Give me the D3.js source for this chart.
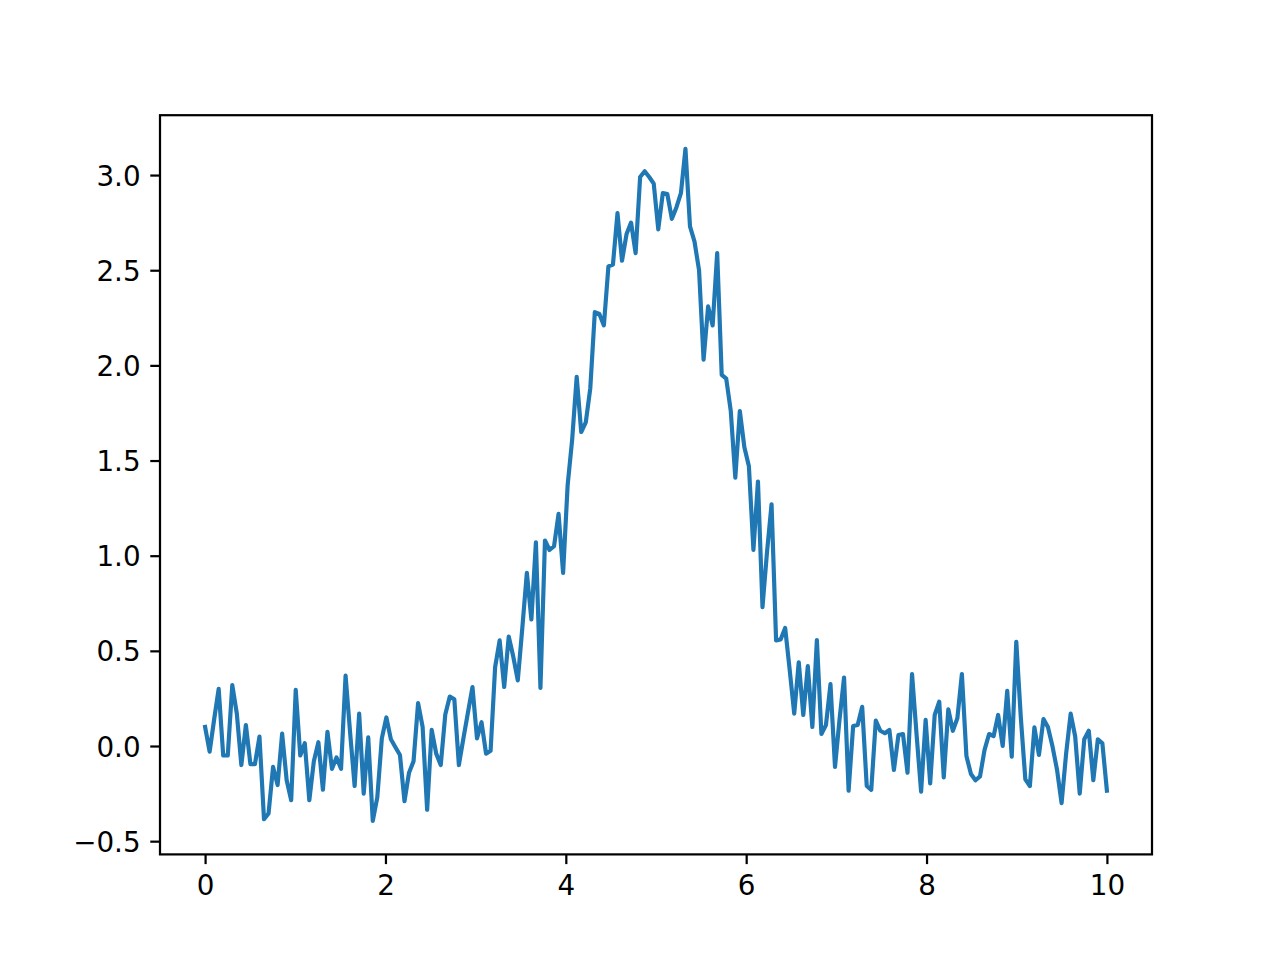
<!DOCTYPE html>
<html>
<head>
<meta charset="utf-8">
<script src="https://cdn.jsdelivr.net/npm/d3@7"></script>
<style>
  html, body { margin: 0; padding: 0; background: #ffffff; }
  svg { display: block; }
</style>
</head>
<body>
<div id="chart"></div>
<script>
// ---- data ----
const xMin = 0;
const xMax = 10;
const yValues = [
  0.10, -0.03, 0.14, 0.30, -0.05, -0.05, 0.32, 0.17, -0.10, 0.11,
  -0.095, -0.095, 0.05, -0.385, -0.355, -0.11, -0.205, 0.065, -0.18, -0.285,
  0.295, -0.05, 0.015, -0.285, -0.08, 0.02, -0.23, 0.075, -0.12, -0.06,
  -0.12, 0.37, 0.07, -0.21, 0.17, -0.25, 0.045, -0.393, -0.27, 0.04,
  0.15, 0.035, -0.007, -0.047, -0.29, -0.14, -0.08, 0.225, 0.10, -0.335,
  0.085, -0.04, -0.10, 0.165, 0.26, 0.245, -0.10, 0.04, 0.175, 0.31,
  0.04, 0.125, -0.04, -0.025, 0.415, 0.555, 0.31, 0.575, 0.47, 0.345,
  0.62, 0.91, 0.665, 1.07, 0.305, 1.08, 1.03, 1.05, 1.22, 0.91,
  1.37, 1.61, 1.94, 1.65, 1.70, 1.88, 2.28, 2.27, 2.21, 2.52,
  2.53, 2.80, 2.55, 2.69, 2.75, 2.59, 2.99, 3.02, 2.99, 2.955,
  2.715, 2.905, 2.90, 2.77, 2.83, 2.905, 3.138, 2.73, 2.65, 2.50,
  2.03, 2.31, 2.21, 2.59, 1.95, 1.93, 1.76, 1.41, 1.76, 1.57,
  1.47, 1.03, 1.39, 0.73, 1.02, 1.27, 0.555, 0.56, 0.62, 0.40,
  0.17, 0.44, 0.163, 0.42, 0.10, 0.557, 0.063, 0.11, 0.325, -0.11,
  0.14, 0.36, -0.235, 0.105, 0.11, 0.206, -0.21, -0.23, 0.133, 0.08,
  0.067, 0.084, -0.126, 0.058, 0.063, -0.14, 0.378, 0.06, -0.24, 0.137,
  -0.196, 0.163, 0.233, -0.165, 0.193, 0.08, 0.146, 0.378, -0.053, -0.147,
  -0.18, -0.16, -0.02, 0.063, 0.052, 0.163, 0.0, 0.29, -0.056, 0.548,
  0.15, -0.175, -0.21, 0.098, -0.047, 0.142, 0.098, -0.003, -0.126, -0.30,
  -0.04, 0.17, 0.05, -0.25, 0.035, 0.08, -0.18, 0.035, 0.014, -0.235
];
const xTicks = [0, 2, 4, 6, 8, 10];
const yTicks = [-0.5, 0.0, 0.5, 1.0, 1.5, 2.0, 2.5, 3.0];

// evenly spaced sample positions (x grid of the series)
const nPts = yValues.length;
const xValues = yValues.map((_, i) => xMin + i * (xMax - xMin) / (nPts - 1));
const points = xValues.map((xv, i) => ({ x: xv, y: yValues[i] }));

// ---- layout (matplotlib default figure 6.4x4.8 in @200dpi) ----
const figW = 1280, figH = 960;
const axL = 160, axR = 1152, axT = 115.2, axB = 854.4;
const fontPx = 27.78;
const tickLen = 9.72;
const tickPad = 9.72;

function padDomain(lo, hi) {
  const m = (hi - lo) * 0.05;
  return [lo - m, hi + m];
}

const xScale = d3.scaleLinear().domain(padDomain(xMin, xMax)).range([axL, axR]);
const yExt = d3.extent(yValues);
const yScale = d3.scaleLinear().domain(padDomain(yExt[0], yExt[1])).range([axB, axT]);

const svg = d3.select("#chart").append("svg")
  .attr("width", figW).attr("height", figH)
  .attr("viewBox", `0 0 ${figW} ${figH}`);

svg.append("rect").attr("width", figW).attr("height", figH).attr("fill", "#ffffff");

svg.append("clipPath").attr("id", "clip")
  .append("rect").attr("x", axL).attr("y", axT)
  .attr("width", axR - axL).attr("height", axB - axT);

// data line
const lineGen = d3.line().x(d => xScale(d.x)).y(d => yScale(d.y));
svg.append("path")
  .datum(points)
  .attr("clip-path", "url(#clip)")
  .attr("fill", "none")
  .attr("stroke", "#1f77b4")
  .attr("stroke-width", 4.17)
  .attr("stroke-linejoin", "round")
  .attr("stroke-linecap", "square")
  .attr("d", lineGen);

const fmtY = d => (d < 0 ? "\u2212" : "") + Math.abs(d).toFixed(1);

// x axis
const xAxis = d3.axisBottom(xScale)
  .tickValues(xTicks)
  .tickSize(tickLen)
  .tickPadding(tickPad)
  .tickFormat(d3.format("d"));
const gx = svg.append("g")
  .attr("transform", `translate(0,${axB})`)
  .call(xAxis);
gx.select(".domain").remove();
gx.selectAll(".tick line").attr("stroke", "#000").attr("stroke-width", 2.22);
gx.selectAll(".tick text")
  .attr("fill", "#000")
  .attr("font-family", "'DejaVu Sans', sans-serif")
  .attr("font-size", fontPx)
  .attr("dy", null)
  .attr("y", tickLen + tickPad + 21.5);

// y axis
const yAxis = d3.axisLeft(yScale)
  .tickValues(yTicks)
  .tickSize(tickLen)
  .tickPadding(tickPad)
  .tickFormat(fmtY);
const gy = svg.append("g")
  .attr("transform", `translate(${axL},0)`)
  .call(yAxis);
gy.select(".domain").remove();
gy.selectAll(".tick line").attr("stroke", "#000").attr("stroke-width", 2.22);
gy.selectAll(".tick text")
  .attr("fill", "#000")
  .attr("font-family", "'DejaVu Sans', sans-serif")
  .attr("font-size", fontPx)
  .attr("dy", null)
  .attr("y", 10.0);

// spines (frame)
svg.append("rect")
  .attr("x", axL).attr("y", axT)
  .attr("width", axR - axL).attr("height", axB - axT)
  .attr("fill", "none")
  .attr("stroke", "#000")
  .attr("stroke-width", 2.22)
  .attr("stroke-linejoin", "miter");
</script>
</body>
</html>
